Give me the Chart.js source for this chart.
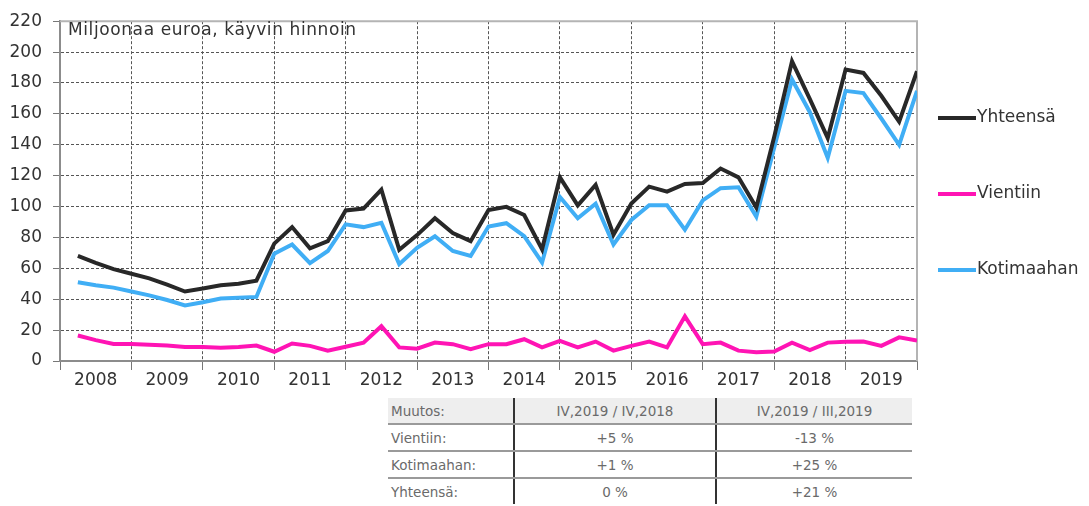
<!DOCTYPE html>
<html>
<head>
<meta charset="utf-8">
<script src="https://cdn.jsdelivr.net/npm/chart.js@4/dist/chart.umd.min.js"></script>
<style>
    body { margin: 0; background: #fff; }
    #wrap { position: relative; width: 1089px; height: 506px; overflow: hidden; }
    #kuvio { position: absolute; left: 0; top: 0; }
    #taulukko {
        position: absolute; left: 388px; top: 398px; width: 524px;
        border-collapse: collapse; table-layout: fixed;
        font-family: "DejaVu Sans", sans-serif; font-size: 13.5px; color: #6a6a6a;
    }
    #taulukko td { height: 25px; padding: 0 3px; white-space: nowrap; }
    #taulukko td + td { text-align: center; border-left: 2px solid #333; }
    #taulukko tr.otsikko td { background: #eeeeee; }
    #taulukko tr.raja td { border-bottom: 2px solid #9a9a9a; }
</style>
</head>
<body>
<div id="wrap">
    <canvas id="kuvio" width="1089" height="395"></canvas>
    <table id="taulukko"></table>
</div>
<script>
// Aineisto: neljännesvuosittain 2008 Q1 - 2019 Q4
const vuodet = ['2008', '2009', '2010', '2011', '2012', '2013', '2014', '2015', '2016', '2017', '2018', '2019'];

const yhteensa = [
    68, 63.5, 59.5, 56.5,
    53.5, 49.5, 45, 47,
    49, 50, 52, 76,
    86.7, 72.9, 77.6, 97.5,
    98.7, 111, 72, 81.5,
    92.4, 82.9, 77.6, 97.7,
    99.8, 94.5, 72.3, 118.9,
    100.8, 114, 81.8, 101.9,
    112.9, 109.7, 114.6, 115.2,
    124.6, 118.9, 99.4, 145,
    194, 169.6, 144.3, 188.7,
    186.5, 171.7, 155, 187.6
];
const vientiin = [
    16.5, 13.5, 11, 11,
    10.5, 10, 9, 9,
    8.5, 9, 10, 6,
    11.3, 9.8, 6.7, 9.2,
    11.9, 22.5, 8.8, 8,
    11.9, 10.9, 7.7, 10.9,
    10.9, 14.1, 8.8, 13,
    8.8, 12.6, 6.7, 9.8,
    12.6, 8.8, 28.9, 10.9,
    11.9, 6.7, 5.6, 6.2,
    11.9, 7.1, 11.9, 12.5,
    12.6, 9.8, 15.3, 13.2
];
const kotimaahan = [
    51, 49, 47.5, 45,
    42.5, 39.5, 36, 38,
    40.5, 41, 41.5, 69.5,
    75.4, 63.4, 71.2, 88.5,
    86.7, 89.5, 62.7, 73.3,
    80.8, 71.2, 68, 87.1,
    89.2, 80.8, 63.8, 106.2,
    92.4, 101.9, 75.4, 91.3,
    100.8, 100.8, 85, 104,
    111.9, 112.5, 93.5, 138,
    182.3, 161.1, 131.5, 174.9,
    173.5, 157, 140, 174.9
];

const otsikko = 'Miljoonaa euroa, käyvin hinnoin';
const yMax = 220;
const yAskel = 20;

// Muutostaulukko
const taulukonOtsikot = ['Muutos:', 'IV,2019 / IV,2018', 'IV,2019 / III,2019'];
const taulukonRivit = [
    ['Vientiin:', '+5 %', '-13 %'],
    ['Kotimaahan:', '+1 %', '+25 %'],
    ['Yhteensä:', '0 %', '+21 %']
];

const alku = Number(vuodet[0]);
const loppu = alku + vuodet.length;
const fontti = '"DejaVu Sans", sans-serif';

function pisteet(arvot) {
    return arvot.map((v, i) => ({ x: alku + (i + 1) / 4, y: v }));
}

// Taulukko
function rakennaTaulukko() {
    const t = document.getElementById('taulukko');
    const cg = document.createElement('colgroup');
    [126, 202, 196].forEach(w => {
        const c = document.createElement('col');
        c.style.width = w + 'px';
        cg.appendChild(c);
    });
    t.appendChild(cg);
    const rivit = [taulukonOtsikot].concat(taulukonRivit);
    rivit.forEach((r, i) => {
        const tr = document.createElement('tr');
        if (i === 0) tr.className = 'otsikko raja';
        else if (i < rivit.length - 1) tr.className = 'raja';
        r.forEach(teksti => {
            const td = document.createElement('td');
            td.textContent = teksti;
            tr.appendChild(td);
        });
        t.appendChild(tr);
    });
}

// Kehys, otsikko ja selite
const lisat = {
    id: 'lisat',
    beforeDatasetsDraw(chart) {
        const { ctx, chartArea: a } = chart;
        ctx.save();
        ctx.strokeStyle = '#b4b4b4';
        ctx.lineWidth = 2;
        ctx.beginPath();
        ctx.moveTo(a.left, a.top);
        ctx.lineTo(a.right, a.top);
        ctx.lineTo(a.right, a.bottom);
        ctx.stroke();
        ctx.fillStyle = '#333';
        ctx.font = '17px ' + fontti;
        ctx.textBaseline = 'middle';
        ctx.letterSpacing = '0.6px';
        ctx.fillText(otsikko, 68, 31);
        ctx.restore();
    },
    afterDraw(chart) {
        const ctx = chart.ctx;
        const rivitY = [118, 194, 270];
        ctx.save();
        ctx.font = '17px ' + fontti;
        ctx.textBaseline = 'middle';
        chart.data.datasets.forEach((ds, i) => {
            const y = rivitY[i];
            ctx.strokeStyle = ds.borderColor;
            ctx.lineWidth = 4;
            ctx.beginPath();
            ctx.moveTo(938, y);
            ctx.lineTo(976, y);
            ctx.stroke();
            ctx.fillStyle = '#333';
            ctx.fillText(ds.label, 977, y);
        });
        ctx.restore();
    }
};

document.addEventListener('DOMContentLoaded', function() {
    rakennaTaulukko();

    const ctx = document.getElementById('kuvio').getContext('2d');
    new Chart(ctx, {
        type: 'line',
        data: {
            datasets: [
                { label: 'Yhteensä', data: pisteet(yhteensa), borderColor: '#282828' },
                { label: 'Vientiin', data: pisteet(vientiin), borderColor: '#ff14b4' },
                { label: 'Kotimaahan', data: pisteet(kotimaahan), borderColor: '#40aef5' }
            ]
        },
        options: {
            responsive: false,
            animation: false,
            devicePixelRatio: 1,
            elements: {
                line: { borderWidth: 4, tension: 0, borderJoinStyle: 'miter' },
                point: { radius: 0, hoverRadius: 0 }
            },
            layout: { padding: { top: 14, right: 172, left: 0, bottom: 0 } },
            plugins: { legend: { display: false }, tooltip: { enabled: false } },
            scales: {
                x: {
                    type: 'linear',
                    min: alku,
                    max: loppu,
                    afterBuildTicks(scale) {
                        const t = [];
                        for (let v = alku; v <= loppu; v += 0.5) t.push({ value: v });
                        scale.ticks = t;
                    },
                    afterFit(scale) { scale.height = 34; },
                    ticks: {
                        autoSkip: false,
                        maxRotation: 0,
                        padding: 0,
                        color: '#333',
                        font: { family: fontti, size: 17 },
                        callback: v => (v % 1 === 0.5 ? vuodet[Math.floor(v) - alku] : '')
                    },
                    grid: {
                        color: c => (c.tick && c.tick.value % 1 === 0 && c.tick.value > alku && c.tick.value < loppu ? '#555' : 'transparent'),
                        tickColor: c => (c.tick && c.tick.value % 1 === 0 ? '#777' : 'transparent'),
                        tickLength: 9,
                        lineWidth: 1
                    },
                    border: { color: '#8c8c8c', width: 2, dash: [3, 2] }
                },
                y: {
                    min: 0,
                    max: yMax,
                    afterFit(scale) { scale.width = 60; },
                    ticks: {
                        stepSize: yAskel,
                        autoSkip: false,
                        padding: 11,
                        color: '#333',
                        font: { family: fontti, size: 17 }
                    },
                    grid: {
                        color: c => (c.tick && c.tick.value > 0 && c.tick.value < yMax ? '#555' : 'transparent'),
                        tickColor: '#777',
                        tickLength: 7,
                        lineWidth: 1
                    },
                    border: { color: '#8c8c8c', width: 2, dash: [3, 2] }
                }
            }
        },
        plugins: [lisat]
    });
});
</script>
</body>
</html>
